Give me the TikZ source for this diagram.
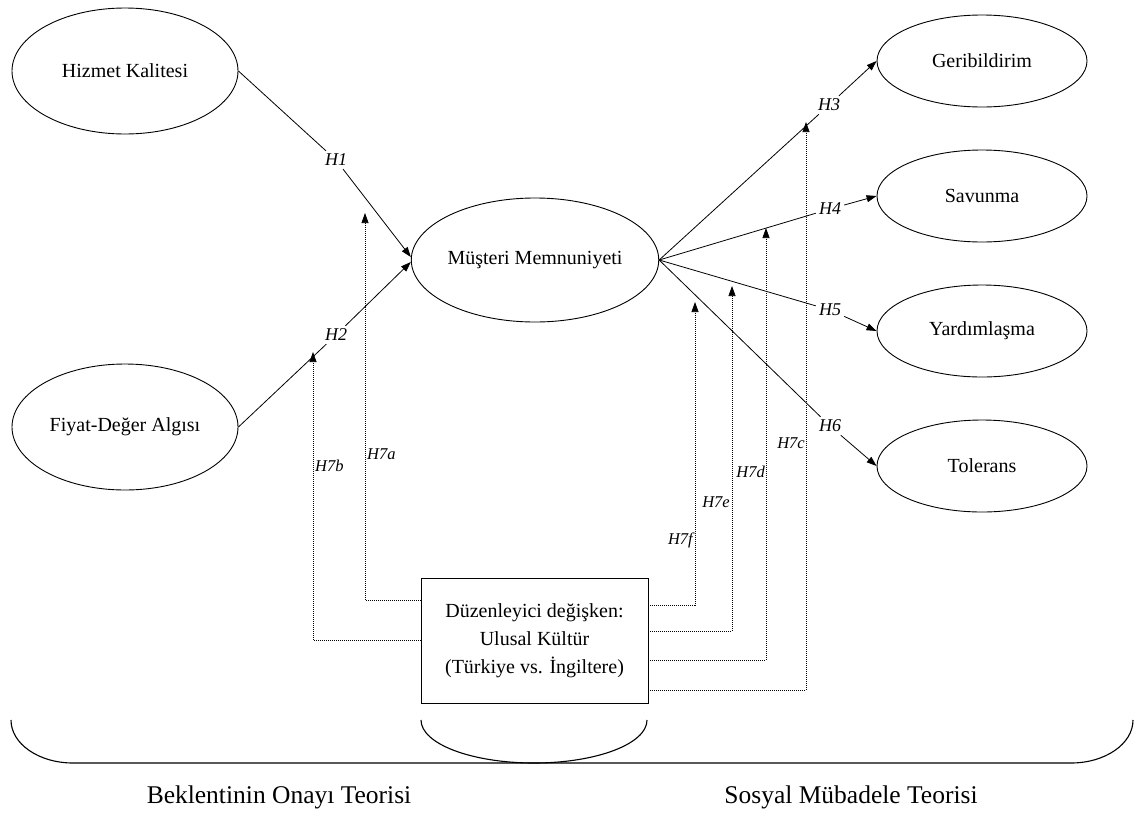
\documentclass[tikz,border=0pt]{standalone}
\usepackage{fontspec}
\setmainfont{Liberation Serif}
\usetikzlibrary{shapes.geometric,arrows.meta}
\begin{document}
\begin{tikzpicture}[x=1pt,y=-1pt,
  construct/.style={ellipse,draw,line width=0.9pt,minimum width=226pt,minimum height=126pt,inner sep=0pt,font=\fontsize{20}{24}\selectfont},
  outcome/.style={construct,minimum width=210pt,minimum height=92pt},
  hyp/.style={inner sep=3pt,font=\fontsize{18}{22}\selectfont\itshape},
  modlab/.style={inner sep=1pt,font=\fontsize{16.5}{20}\selectfont\itshape},
  link/.style={line width=0.8pt},
  arrowed/.style={-{Triangle[length=10pt,width=7pt]}},
  modpath/.style={line width=0.7pt,dash pattern=on 1pt off 1pt,-{Triangle[length=10pt,width=7pt]}},
  theory/.style={line width=1.1pt},
  theorylabel/.style={anchor=base,font=\fontsize{25.5}{30}\selectfont},
]
\useasboundingbox (0,0) rectangle (1134,814);

% constructs
\node[construct] (hk) at (125,71) {Hizmet Kalitesi};
\node[construct] (fd) at (125,427) {Fiyat-Değer Algısı};
\node[construct,minimum width=228pt,minimum height=124pt] (mm) at (535,260) {Müşteri Memnuniyeti};
\node[outcome] (gb) at (982,61) {Geribildirim};
\node[outcome] (sv) at (982,196) {Savunma};
\node[outcome] (yd) at (982,331) {Yardımlaşma};
\node[outcome] (tl) at (982,466) {Tolerans};

% moderator
\node[draw,line width=0.9pt,minimum width=227pt,minimum height=125pt,inner sep=0pt,align=center,
      font=\fontsize{20}{28}\selectfont] (mod) at (534.5,640.5)
  {Düzenleyici değişken:\\Ulusal Kültür\\(Türkiye vs. İngiltere)};

% hypothesis labels
\node[hyp] (h1) at (336,160) {H1};
\node[hyp] (h2) at (336,335) {H2};
\node[hyp] (h3) at (829,105) {H3};
\node[hyp] (h4) at (830,209) {H4};
\node[hyp] (h5) at (830,310) {H5};
\node[hyp] (h6) at (830,426) {H6};

% direct paths
\draw[link] (hk.east) -- (h1);
\draw[link,arrowed] (h1) -- ([yshift=3pt]mm.west);
\draw[link] (fd.east) -- (h2);
\draw[link,arrowed] (h2) -- ([yshift=-2pt]mm.west);
\draw[link] (mm.east) -- (h3);
\draw[link,arrowed] (h3) -- (gb.west);
\draw[link] (mm.east) -- (h4);
\draw[link,arrowed] (h4) -- (sv.west);
\draw[link] (mm.east) -- (h5);
\draw[link,arrowed] (h5) -- (yd.west);
\draw[link] (mm.east) -- (h6);
\draw[link,arrowed] (h6) -- (tl.west);

% moderating paths
\coordinate (t7a) at (365,213);
\coordinate (t7b) at (313,352);
\coordinate (t7f) at (695,302);
\coordinate (t7e) at (732,286);
\coordinate (t7d) at (766,228);
\coordinate (t7c) at (806,122);
\draw[modpath] ([yshift=40.5pt]mod.west) -| (t7a);
\draw[modpath] ([yshift=0.5pt]mod.west) -| (t7b);
\draw[modpath] ([yshift=35.5pt]mod.east) -| (t7f);
\draw[modpath] ([yshift=9.5pt]mod.east) -| (t7e);
\draw[modpath] ([yshift=-19.5pt]mod.east) -| (t7d);
\draw[modpath] ([yshift=-49.5pt]mod.east) -| (t7c);

\node[modlab,anchor=west] (l7a) at (366,454) {H7a};
\node[modlab,anchor=west] (l7b) at (314,466) {H7b};
\node[modlab,anchor=east] (l7f) at (694,540) {H7f};
\node[modlab,anchor=east] (l7e) at (731,502) {H7e};
\node[modlab,anchor=east] (l7d) at (766,472) {H7d};
\node[modlab,anchor=east] (l7c) at (806,443) {H7c};

% theory brackets
\draw[theory] (11,720) .. controls (11,744) and (39,763) .. (73,763)
  -- (1071,763) .. controls (1105,763) and (1133,744) .. (1133,720);
\draw[theory] (421,720) .. controls (421,744) and (472,763) .. (534,763)
  .. controls (596,763) and (647,744) .. (647,720);

\node[theorylabel] (bot) at (279,803) {Beklentinin Onayı Teorisi};
\node[theorylabel] (smt) at (851,803) {Sosyal Mübadele Teorisi};
\end{tikzpicture}
\end{document}
